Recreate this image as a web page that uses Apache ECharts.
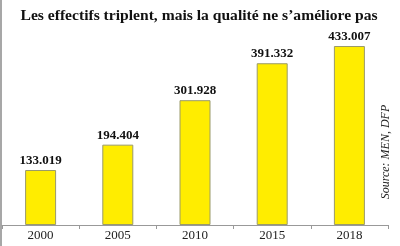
<!DOCTYPE html>
<html>
<head>
<meta charset="utf-8">
<script src="https://cdn.jsdelivr.net/npm/echarts@6/dist/echarts.min.js"></script>
<style>
  html, body { margin: 0; padding: 0; background: #fff; }
  #chart { width: 400px; height: 246px; }
</style>
</head>
<body>
<div id="chart"></div>
<script>
// effectifs (en milliers)
const years = ['2000', '2005', '2010', '2015', '2018'];
const effectifs = [133.019, 194.404, 301.928, 391.332, 433.007];

const chart = echarts.init(document.getElementById('chart'));

const option = {
  animation: false,
  title: {
    text: 'Les effectifs triplent, mais la qualité ne s\u2019améliore pas',
    left: 194,
    textAlign: 'center',
    top: 3,
    textStyle: {
      fontFamily: 'Liberation Serif',
      fontWeight: 'bold',
      fontSize: 15.6,
      color: '#111'
    }
  },
  grid: { left: 2, right: 12, top: 39, bottom: 21, containLabel: false },
  xAxis: {
    type: 'category',
    data: years,
    axisLine: { lineStyle: { color: '#999', width: 1 } },
    axisTick: { show: true, length: 4, lineStyle: { color: '#999' } },
    axisLabel: {
      fontFamily: 'Liberation Serif',
      fontSize: 13,
      color: '#222',
      margin: 4
    }
  },
  yAxis: {
    type: 'value',
    min: 0,
    max: 450,
    show: false,
    splitLine: { show: false }
  },
  series: [{
    type: 'bar',
    data: effectifs,
    barWidth: 31,
    itemStyle: { color: '#FFED00', borderColor: '#9a9a6a', borderWidth: 1 },
    label: {
      show: true,
      position: 'top',
      distance: 3,
      formatter: p => p.value.toFixed(3),
      fontFamily: 'Liberation Serif',
      fontWeight: 'bold',
      fontSize: 13,
      color: '#111'
    }
  }],
  graphic: [
    {
      type: 'line',
      shape: { x1: 1, y1: 0, x2: 1, y2: 246 },
      style: { stroke: '#8a8a8a', lineWidth: 1.5 }
    },
    {
      type: 'text',
      x: 386,
      y: 152,
      rotation: Math.PI / 2,
      style: {
        text: 'Source: MEN, DFP',
        font: 'italic 12px "Liberation Serif"',
        fill: '#222',
        textAlign: 'center',
        textVerticalAlign: 'middle'
      }
    }
  ]
};

chart.setOption(option);
</script>
</body>
</html>
